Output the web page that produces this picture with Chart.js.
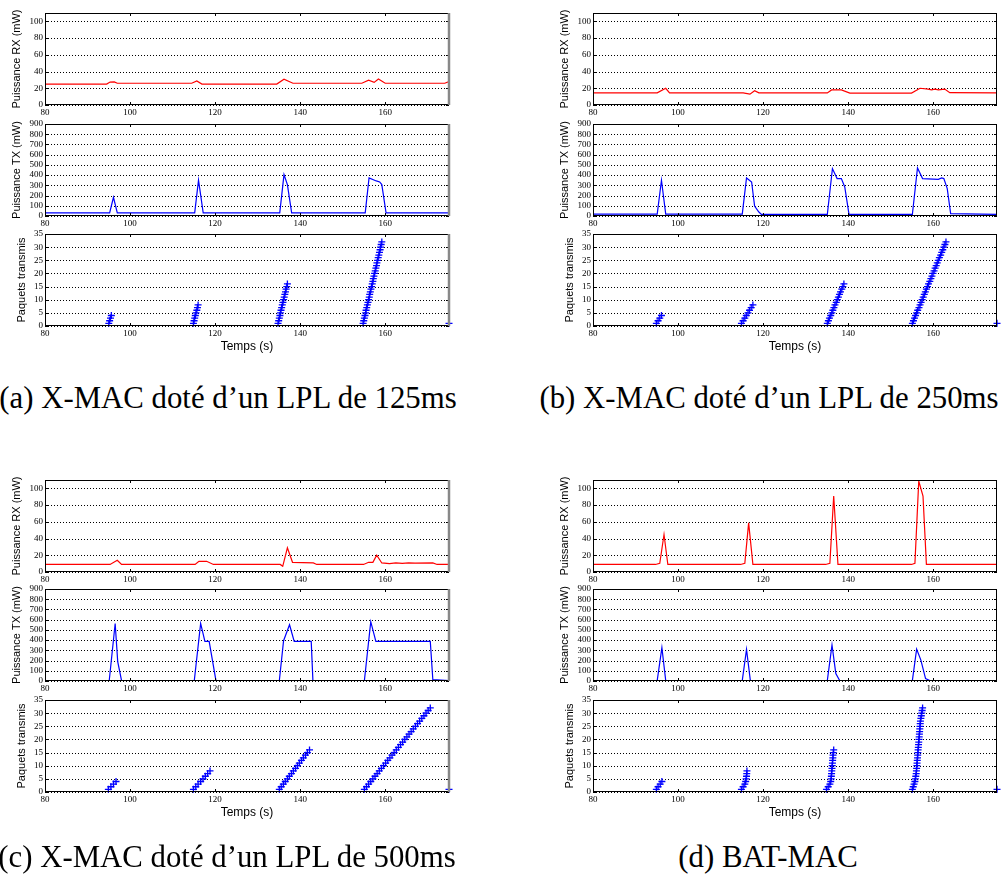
<!DOCTYPE html>
<html>
<head>
<meta charset="utf-8">
<script src="https://cdn.jsdelivr.net/npm/chart.js@4.4.0/dist/chart.umd.min.js"></script>
<style>
  body { margin: 0; background: #fff; width: 1006px; height: 877px; position: relative; overflow: hidden; }
  canvas { position: absolute; }
  .legende { position: absolute; font-family: "Liberation Serif", serif; white-space: nowrap; color: #000;
             transform: translate(-50%, -50%); }
</style>
</head>
<body>
<script>
// ---- Données ----
// (a) X-MAC, LPL 125 ms
const rxTempsA = [80, 94.5, 95.3, 96.3, 97, 114.5, 115.7, 116.9, 134.5, 136.2, 138.3, 154.5, 156.1, 157.4, 158.4, 160, 174, 175];
const rxPuissA = [25, 25, 27.4, 27.6, 26, 26, 28.8, 25, 25, 30.8, 26, 26, 29.6, 27, 31, 26, 26, 28];
const txTempsA = [80, 95.2, 96.1, 97, 115.2, 116.1, 117.2, 135.2, 136.2, 137, 138, 155.3, 156.2, 157.9, 158.7, 159.2, 160.2, 175];
const txPuissA = [30, 30, 183, 30, 30, 350, 30, 30, 405, 307, 30, 30, 372, 343, 333, 307, 30, 30];
const paquetsA = [
  [95.0, 95.2, 95.4, 95.6],
  [114.9, 115.05, 115.2, 115.35, 115.5, 115.7, 115.85, 116.0],
  [134.8, 134.95, 135.1, 135.25, 135.35, 135.5, 135.65, 135.8, 135.95, 136.1, 136.25, 136.4, 136.55, 136.7, 136.85, 137.0],
  [154.8, 154.95, 155.1, 155.25, 155.4, 155.5, 155.65, 155.8, 155.95, 156.1, 156.25, 156.35, 156.5, 156.65, 156.8, 156.95,
   157.1, 157.2, 157.35, 157.5, 157.65, 157.8, 157.95, 158.05, 158.2, 158.35, 158.5, 158.65, 158.8, 158.9, 159.05, 159.2],
  [175]
];

// (b) X-MAC, LPL 250 ms
const rxTempsB = [80, 95.1, 97.1, 98, 115.3, 116.9, 118, 119, 135.1, 136.1, 138.4, 140.4, 154.9, 156.9, 158.8, 159.6, 160.4, 161.2, 162.7, 163.9, 175];
const rxPuissB = [14.5, 14.5, 20, 14.5, 14.5, 13, 17, 14.5, 14.5, 18, 18, 14.3, 14.3, 20, 19, 18, 19, 18, 19, 14.8, 14.5];
const txTempsB = [80, 95.1, 96.1, 97.1, 115.1, 116.1, 117.3, 118, 119, 119.6, 135.1, 136.3, 137.4, 138.4, 139.2, 140.2,
                  155.1, 156.3, 157.5, 161.2, 162, 162.5, 163.3, 164.1, 175];
const txPuissB = [18, 18, 350, 18, 18, 372, 333, 98, 39, 15, 15, 464, 366, 366, 284, 15, 15, 470, 366, 359, 372, 366, 268, 23, 15];
const paquetsB = [
  [94.9, 95.3, 95.7, 96.1],
  [114.9, 115.3, 115.7, 116.05, 116.45, 116.8, 117.2, 117.6],
  [135.1, 135.35, 135.6, 135.9, 136.15, 136.4, 136.65, 136.9, 137.2, 137.45, 137.7, 137.95, 138.2, 138.5, 138.75, 139.0],
  [155.1, 155.35, 155.6, 155.85, 156.1, 156.35, 156.65, 156.9, 157.15, 157.4, 157.65, 157.9, 158.15, 158.4, 158.65, 158.9,
   159.2, 159.45, 159.7, 159.95, 160.2, 160.45, 160.7, 160.95, 161.2, 161.45, 161.75, 162.0, 162.25, 162.5, 162.75, 163.0],
  [175]
];

// (c) X-MAC, LPL 500 ms
const rxTempsC = [80, 95.3, 97, 98, 115.3, 116.2, 118, 119.6, 135.3, 135.9, 137, 138.2, 143.1, 143.9, 154.9, 156.1, 157.1, 158,
                  159.2, 161, 162.5, 164, 165.5, 167, 171.2, 172.2, 175];
const rxPuissC = [9, 9, 14, 9, 9, 12.8, 12.8, 9, 9, 6.8, 29, 11.6, 10.8, 9, 9, 11.6, 11.6, 20, 10.8, 10, 11, 10.2, 11, 10.5, 10.8, 9, 9];
const txTempsC = [80, 95.1, 96.5, 97.1, 98, 115.1, 116.6, 117.6, 118.6, 120.2, 135.1, 136.1, 137.5, 138.6, 142.6, 143,
                  155.1, 156.6, 157.8, 170.6, 171.2, 175];
const txPuissC = [3, 3, 563, 189, 3, 3, 563, 387, 387, 3, 3, 394, 550, 387, 387, 3, 3, 580, 387, 387, 13, 3];
const paquetsC = [
  [94.9, 95.5, 96.1, 96.7],
  [114.9, 115.45, 116.0, 116.6, 117.15, 117.7, 118.25, 118.8],
  [135.1, 135.55, 136.05, 136.5, 137.0, 137.45, 137.95, 138.4, 138.9, 139.35, 139.8, 140.3, 140.75, 141.25, 141.7, 142.2],
  [155.1, 155.6, 156.1, 156.6, 157.1, 157.6, 158.1, 158.6, 159.1, 159.6, 160.1, 160.6, 161.1, 161.6, 162.1, 162.6,
   163.1, 163.6, 164.1, 164.6, 165.1, 165.6, 166.1, 166.6, 167.1, 167.6, 168.1, 168.6, 169.1, 169.6, 170.1, 170.6],
  [175]
];

// (d) BAT-MAC
const rxTempsD = [80, 94.7, 95.7, 96.7, 97.6, 114.7, 115.7, 116.6, 117.6, 134.7, 135.7, 136.6, 137.6, 154.9, 155.7, 156.6, 157.6, 158.4, 175];
const rxPuissD = [9, 9, 10.4, 44.8, 9, 9, 10.4, 58.8, 9, 9, 10.4, 90.8, 9, 9, 10.4, 108.8, 90.8, 9, 9];
const txTempsD = [80, 95.1, 96.2, 97.1, 115.1, 116.1, 117, 135.1, 136.2, 137.1, 138, 155.1, 156.1, 157.1, 158.2, 159.2, 175];
const txPuissD = [5, 5, 325, 5, 5, 309, 5, 5, 352, 72, 5, 5, 312, 204, 23, 5, 5];
const paquetsD = [
  [94.9, 95.3, 95.8, 96.2],
  [114.9, 115.3, 115.7, 115.9, 116.0, 116.1, 116.15, 116.2],
  [134.9, 135.3, 135.7, 135.9, 136.0, 136.05, 136.1, 136.15, 136.2, 136.25, 136.3, 136.35, 136.4, 136.45, 136.5, 136.6],
  [155.1, 155.3, 155.5, 155.7, 155.8, 155.9, 156.0, 156.05, 156.1, 156.15, 156.2, 156.25, 156.3, 156.35, 156.4, 156.45,
   156.5, 156.55, 156.6, 156.65, 156.7, 156.75, 156.8, 156.85, 156.9, 156.95, 157.0, 157.1, 157.2, 157.3, 157.4, 157.5],
  [175]
];

const legendes = [
  "(a) X-MAC doté d’un LPL de 125ms",
  "(b) X-MAC doté d’un LPL de 250ms",
  "(c) X-MAC doté d’un LPL de 500ms",
  "(d) BAT-MAC"
];

// ---- Mise en page ----
const colLeft = [45, 593];
const rowTop = [[13, 124, 234], [480, 589, 700]];
const plotW = 404, plotH = 92, axeY = 45, margeHaut = 8, margeDroite = 6;
const policeTicks = { family: "Liberation Serif", size: 9 };
const policeTitre = { family: "Liberation Sans", size: 11 };

// cadre, grille pointillée et graduations vers l'intérieur (style Matlab)
const cadre = {
  id: 'cadre',
  beforeDatasetsDraw(chart) {
    const { ctx, chartArea: a, scales: { y } } = chart;
    ctx.save();
    ctx.strokeStyle = '#000';
    ctx.lineWidth = 1;
    ctx.setLineDash([1, 2]);
    y.ticks.forEach(t => {
      const py = Math.round(y.getPixelForValue(t.value)) + 0.5;
      ctx.beginPath(); ctx.moveTo(a.left, py); ctx.lineTo(a.right, py); ctx.stroke();
    });
    ctx.restore();
  },
  afterDraw(chart, args, opts) {
    const { ctx, chartArea: a, scales: { x, y } } = chart;
    ctx.save();
    ctx.strokeStyle = '#000';
    ctx.lineWidth = 1;
    ctx.strokeRect(a.left + 0.5, a.top + 0.5, a.right - a.left - 1, a.bottom - a.top - 1);
    ctx.beginPath();
    x.ticks.forEach(t => {
      const px = Math.round(x.getPixelForValue(t.value)) + 0.5;
      ctx.moveTo(px, a.top); ctx.lineTo(px, a.top + 3);
      ctx.moveTo(px, a.bottom); ctx.lineTo(px, a.bottom - 3);
    });
    y.ticks.forEach(t => {
      const py = Math.round(y.getPixelForValue(t.value)) + 0.5;
      ctx.moveTo(a.left, py); ctx.lineTo(a.left + 3, py);
      ctx.moveTo(a.right, py); ctx.lineTo(a.right - 3, py);
    });
    ctx.stroke();
    if (opts.bord) {
      ctx.strokeStyle = '#888';
      ctx.lineWidth = 2.5;
      ctx.beginPath(); ctx.moveTo(a.right, a.top); ctx.lineTo(a.right, a.bottom); ctx.stroke();
    }
    ctx.restore();
  }
};

function ligne(temps, valeurs, couleur) {
  return {
    data: temps.map((t, i) => ({ x: t, y: valeurs[i] })),
    borderColor: couleur, borderWidth: 1.2, pointRadius: 0, tension: 0, fill: false
  };
}

function creerGraphe(x0, y0, hx, datasets, axe, titreX, bord) {
  const c = document.createElement('canvas');
  c.width = axeY + plotW + margeDroite;
  c.height = margeHaut + plotH + hx;
  c.style.left = (x0 - axeY) + 'px';
  c.style.top = (y0 - margeHaut) + 'px';
  document.body.appendChild(c);

  new Chart(c, {
    type: 'line',
    data: { datasets },
    options: {
      responsive: false,
      animation: false,
      devicePixelRatio: 1,
      layout: { padding: { top: margeHaut, right: margeDroite, left: 0, bottom: 0 } },
      plugins: { legend: { display: false }, tooltip: { enabled: false }, cadre: { bord } },
      scales: {
        x: {
          type: 'linear', min: 80, max: 175,
          ticks: { stepSize: 20, includeBounds: false, autoSkip: false, font: policeTicks, color: '#000', padding: 2, maxRotation: 0 },
          grid: { display: false, drawTicks: false },
          border: { display: false },
          title: { display: !!titreX, text: titreX, color: '#000', font: { family: "Liberation Sans", size: 12 }, padding: 0 },
          afterFit: s => { s.height = hx; }
        },
        y: {
          min: 0, max: axe.max,
          ticks: { stepSize: axe.pas, includeBounds: false, autoSkip: false, font: policeTicks, color: '#000', padding: 2 },
          grid: { display: false, drawTicks: false },
          border: { display: false },
          title: { display: true, text: axe.titre, color: '#000', font: policeTitre, padding: { top: axe.decal, bottom: 0 } },
          afterFit: s => { s.width = axeY; }
        }
      }
    },
    plugins: [cadre]
  });
}

const panneaux = [
  { col: 0, row: 0, rxT: rxTempsA, rxV: rxPuissA, txT: txTempsA, txV: txPuissA, pk: paquetsA, bord: true },
  { col: 1, row: 0, rxT: rxTempsB, rxV: rxPuissB, txT: txTempsB, txV: txPuissB, pk: paquetsB, bord: false },
  { col: 0, row: 1, rxT: rxTempsC, rxV: rxPuissC, txT: txTempsC, txV: txPuissC, pk: paquetsC, bord: true },
  { col: 1, row: 1, rxT: rxTempsD, rxV: rxPuissD, txT: txTempsD, txV: txPuissD, pk: paquetsD, bord: false }
];

panneaux.forEach(p => {
  const x0 = colLeft[p.col];
  const tops = rowTop[p.row];

  creerGraphe(x0, tops[0], 14, [ligne(p.rxT, p.rxV, '#ff0000')],
    { max: 110, pas: 20, titre: 'Puissance RX (mW)', decal: 10 }, '', p.bord);

  creerGraphe(x0, tops[1], 14, [ligne(p.txT, p.txV, '#0000ff')],
    { max: 900, pas: 100, titre: 'Puissance TX (mW)', decal: 10 }, '', p.bord);

  // chaque rafale : le k-ième paquet transmis au temps indiqué
  const points = p.pk.flatMap(rafale => rafale.map((t, i) => ({ x: t, y: i + 1 })));
  creerGraphe(x0, tops[2], 28, [
    { data: [{ x: 80, y: 0 }, { x: 175, y: 0 }], borderColor: '#0000ff', borderWidth: 2, pointRadius: 0 },
    { data: points, showLine: false, pointStyle: 'cross', pointRadius: 3.5, borderColor: '#0000ff',
      backgroundColor: '#0000ff', borderWidth: 1.3, clip: 4 }
  ], { max: 35, pas: 5, titre: 'Paquets transmis', decal: 15 }, 'Temps (s)', p.bord);
});

// légendes des sous-figures
const centres = [[228, 398], [769, 398], [227, 857], [768, 857]];
const essai = document.createElement('div');
essai.className = 'legende';
essai.style.fontSize = '20px';
essai.textContent = legendes[0];
document.body.appendChild(essai);
const taille = 20 * 457 / essai.getBoundingClientRect().width;
essai.remove();

legendes.forEach((txt, i) => {
  const d = document.createElement('div');
  d.className = 'legende';
  d.style.fontSize = taille.toFixed(1) + 'px';
  d.style.left = centres[i][0] + 'px';
  d.style.top = centres[i][1] + 'px';
  d.textContent = txt;
  document.body.appendChild(d);
});
</script>
</body>
</html>
